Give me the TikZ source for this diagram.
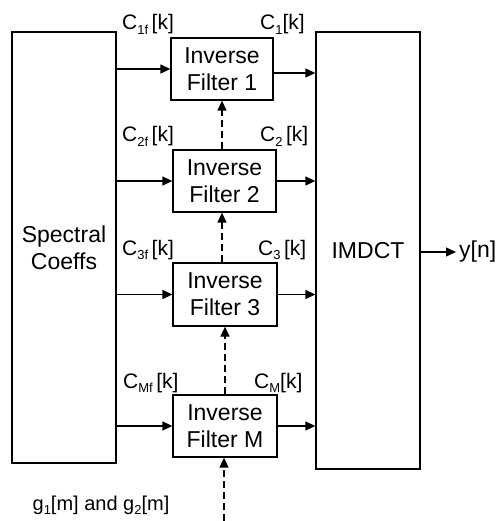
\documentclass[tikz,border=0pt]{standalone}
\usepackage{fontspec}
\setmainfont{Liberation Sans}
\usetikzlibrary{arrows.meta}
\newcommand{\mysub}[1]{\raisebox{-0.22em}{\fontsize{13}{13}\selectfont #1}}
\begin{document}
\begin{tikzpicture}[x=1pt,y=-1pt,
  every node/.style={font=\fontsize{23}{27}\selectfont},
  blk/.style={draw,line width=1.3pt,inner sep=0pt,align=center,fill=white},
  lbl/.style={inner sep=0pt,anchor=base west,font=\fontsize{21}{25}\selectfont},
  arr/.style={line width=1.3pt,-{Triangle[length=10pt,width=9pt]}},
  dasharr/.style={arr,dash pattern=on 7pt off 4pt}]
\useasboundingbox (0,0) rectangle (497,521);
\node[blk,minimum width=104pt,minimum height=431pt] (S) at (64,247.5) {Spectral\\Coeffs};
\node[blk,minimum width=104pt,minimum height=437pt] (IM) at (368,250.5) {IMDCT};
\node[blk,minimum width=102pt,minimum height=62pt] (F1) at (222,69) {Inverse\\Filter 1};
\node[blk,minimum width=103pt,minimum height=62pt] (F2) at (224.5,181) {Inverse\\Filter 2};
\node[blk,minimum width=104pt,minimum height=63pt] (F3) at (225,294.5) {Inverse\\Filter 3};
\node[blk,minimum width=104pt,minimum height=62pt] (FM) at (225,426) {Inverse\\Filter M};
% labels
\node[lbl] (l1f) at (122,30) {C\mysub{1f}\,[k]};
\node[lbl] (l2f) at (122,142) {C\mysub{2f}\,[k]};
\node[lbl] (l3f) at (122,255) {C\mysub{3f}\,[k]};
\node[lbl] (lMf) at (123,388) {C\mysub{Mf}\,[k]};
\node[lbl] (l1) at (260,30) {C\mysub{1}[k]};
\node[lbl] (l2) at (260,142) {C\mysub{2}\,[k]};
\node[lbl] (l3) at (258,255) {C\mysub{3}\,[k]};
\node[lbl] (lM) at (254,388) {C\mysub{M}[k]};
\node[inner sep=0pt,anchor=west] (y) at (459,252) {y[n]};
\node[inner sep=0pt,font=\fontsize{20}{24}\selectfont] (g) at (101,505) {g\mysub{1}[m] and g\mysub{2}[m]};
% inputs
\foreach \f in {F1,F2,F3,FM} {
  \draw[arr] (\f.west -| S.east) -- (\f.west);
}
\draw[arr] ([yshift=-4pt]F1.east) -- ([yshift=-4pt]F1.east -| IM.west);
\foreach \f in {F2,F3,FM} {
  \draw[arr] (\f.east) -- (\f.east -| IM.west);
}
\draw[arr] (IM.east |- y.west) -- ([xshift=-3pt]y.west);
% dashed
\coordinate (d1) at (222,0);
\coordinate (d3) at (225,0);
\coordinate (d4) at (224,521);
\draw[dasharr] (F2.north -| d1) -- (F1.south -| d1);
\draw[dasharr] (F3.north -| d1) -- (F2.south -| d1);
\draw[dasharr] (FM.north -| d3) -- (F3.south -| d3);
\draw[dasharr] (d4) -- (FM.south -| d4);
\end{tikzpicture}
\end{document}
